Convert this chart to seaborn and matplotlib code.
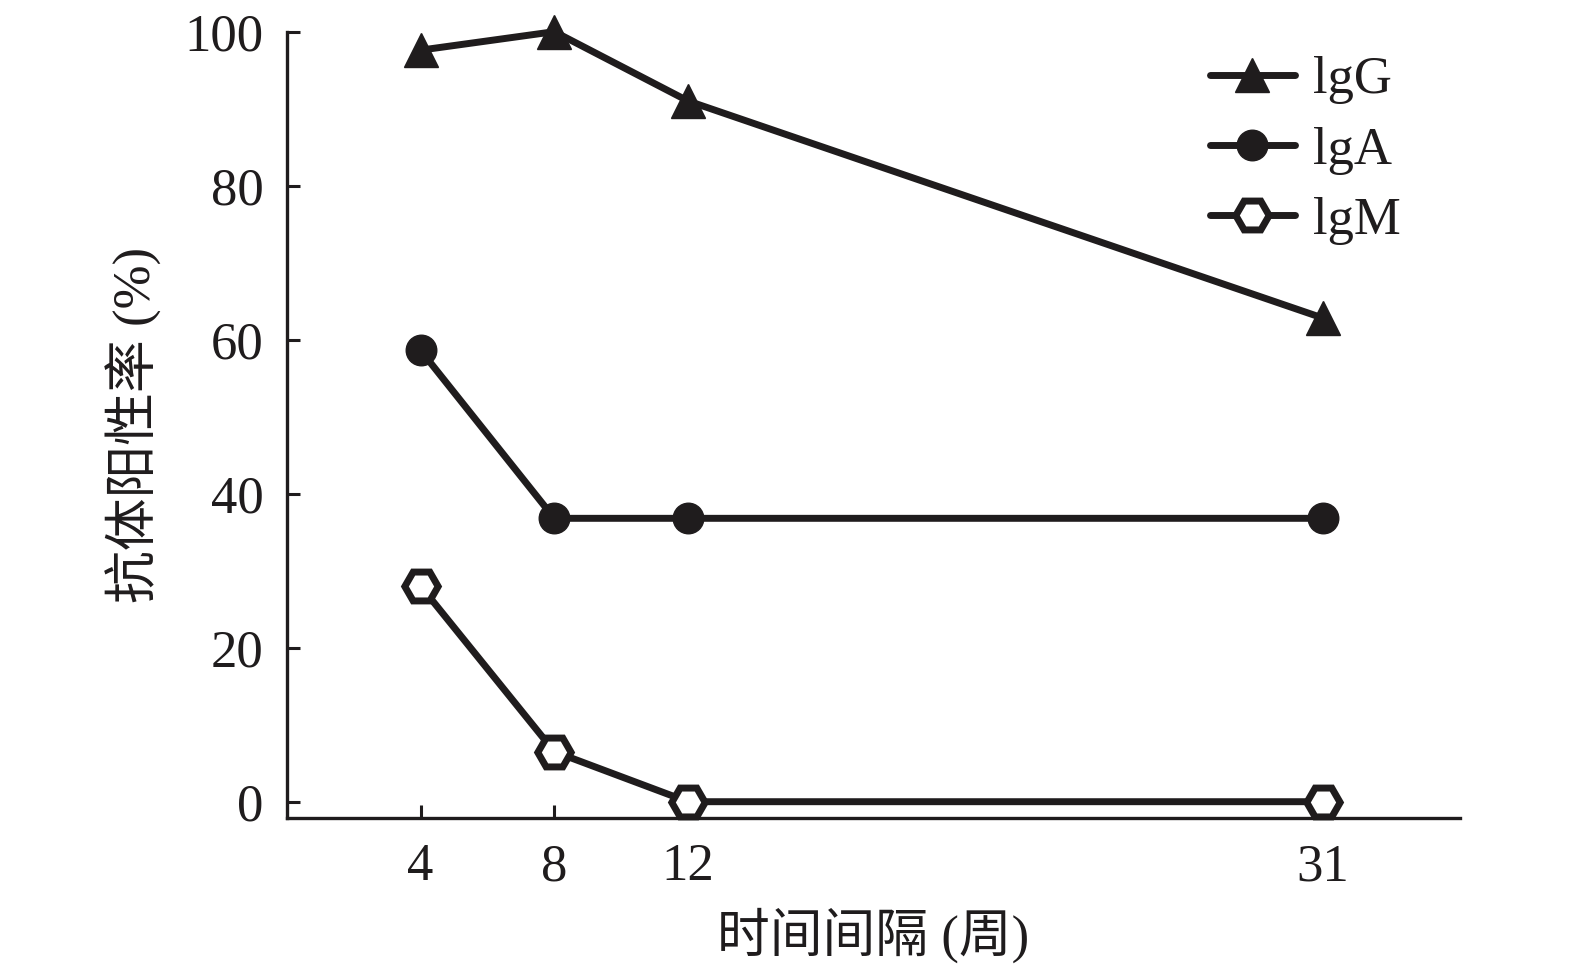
import matplotlib
matplotlib.use("Agg")
import matplotlib.pyplot as plt
import seaborn as sns
import numpy as np

weeks = [4, 8, 12, 31]
igg = [97.6, 100.0, 91.0, 62.8]
iga = [58.6, 36.8, 36.8, 36.8]
igm = [28.0, 6.5, 0.0, 0.0]
series_names = ["lgG", "lgA", "lgM"]
xticks = [4, 8, 12, 31]
yticks = [0, 20, 40, 60, 80, 100]

sns.set_theme(style="ticks")
plt.rcParams['font.family'] = ['Liberation Serif', 'Noto Sans CJK SC']
plt.rcParams['font.size'] = 38

ink = "#1f1c1d"
fig = plt.figure(figsize=(15.75, 9.68), dpi=100)
ax = fig.add_axes([0.1822, 0.1547, 0.927 - 0.1822, 0.9673 - 0.1547])

lw = 5.0
sns.lineplot(x=weeks, y=igg, ax=ax, color=ink, lw=lw, marker="^", markersize=24,
             markerfacecolor=ink, markeredgecolor=ink, markeredgewidth=1,
             label=series_names[0], clip_on=False)
sns.lineplot(x=weeks, y=iga, ax=ax, color=ink, lw=lw, marker="o", markersize=22,
             markerfacecolor=ink, markeredgecolor=ink, markeredgewidth=1,
             label=series_names[1], clip_on=False)
sns.lineplot(x=weeks, y=igm, ax=ax, color=ink, lw=lw, marker="H", markersize=24,
             markerfacecolor="white", markeredgecolor=ink, markeredgewidth=5,
             label=series_names[2], clip_on=False)

ax.set_xlim(0, 35.1)
ax.set_ylim(-2.15, 100)
ax.set_xticks(xticks)
ax.set_xticklabels([str(t) for t in xticks])
ax.set_yticks(yticks)
ax.set_yticklabels([str(t) for t in yticks])
for s in ["top", "right"]:
    ax.spines[s].set_visible(False)
for s in ["left", "bottom"]:
    ax.spines[s].set_linewidth(2.4)
    ax.spines[s].set_color(ink)
ax.tick_params(axis="both", direction="in", length=9.5, width=2.2, colors=ink,
               labelsize=38, labelcolor=ink)
ax.tick_params(axis="x", pad=18)
ax.tick_params(axis="y", pad=17)

ax.set_xlabel("时间间隔 (周)", fontsize=38, color=ink, labelpad=12)
ax.set_ylabel("抗体阳性率 (%)", fontsize=38, color=ink, labelpad=16)

leg = ax.legend(loc="upper right", bbox_to_anchor=(0.99, 1.029), frameon=False, numpoints=1,
                handlelength=1.6, handletextpad=0.35, labelspacing=0.42, fontsize=38)
for t in leg.get_texts():
    t.set_color(ink)

fig.savefig("out.png", dpi=100, facecolor="white")
